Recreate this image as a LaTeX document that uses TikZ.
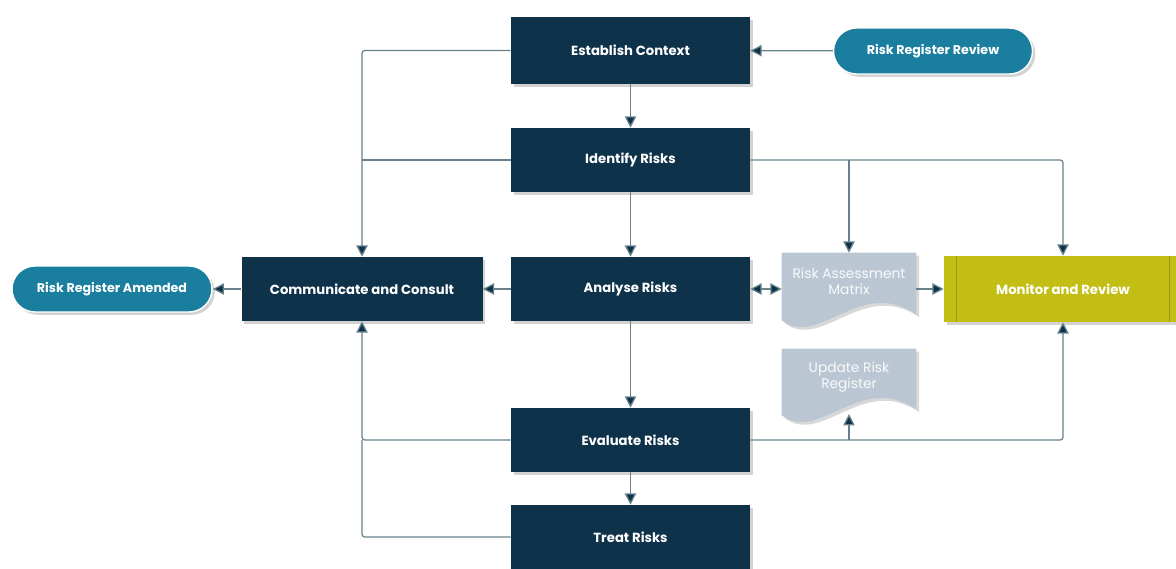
\documentclass[tikz,border=0pt]{standalone}
\usepackage{fontspec}
\setmainfont{Poppins}
\usepackage{tikz}
\definecolor{navy}{RGB}{14,50,74}
\definecolor{teal}{RGB}{26,126,158}
\definecolor{paper}{RGB}{186,199,211}
\definecolor{olive}{RGB}{194,190,20}
\definecolor{wire}{RGB}{104,130,140}
\usetikzlibrary{arrows.meta,shadows,backgrounds,calc}

\tikzset{
    procbox/.style={fill=navy, text=white, font=\bfseries\fontsize{9.4}{11}\selectfont,
        minimum width=5.975cm, minimum height=1.6cm, inner sep=0pt,
        drop shadow={shadow xshift=2pt, shadow yshift=-2pt, opacity=0.35}},
    pillbox/.style={fill=teal, text=white, font=\bfseries\fontsize{9}{10}\selectfont,
        minimum width=5cm, minimum height=1.15cm, inner sep=0pt,
        rounded corners=0.575cm, draw=white, line width=1pt,
        drop shadow={shadow xshift=2pt, shadow yshift=-2pt, opacity=0.35}},
    docbox/.style={text=white!92!paper, font=\fontsize{9.8}{11}\selectfont, align=center,
        minimum width=3.35cm, minimum height=1.425cm, inner sep=0pt},
    monbox/.style={fill=olive, text=white, font=\bfseries\fontsize{9.4}{11}\selectfont,
        minimum width=5.95cm, minimum height=1.65cm, inner sep=0pt,
        drop shadow={shadow xshift=2pt, shadow yshift=-2pt, opacity=0.35}},
    line/.style={draw=wire, line width=0.9pt, rounded corners=2pt},
    arr/.style={line, -{Triangle[length=8pt, width=8pt, fill=navy]}},
    arrtwo/.style={line, {Triangle[length=8pt, width=8pt, fill=navy]}-{Triangle[length=8pt, width=8pt, fill=navy]}}
}

% wavy document outline under a node
\newcommand{\docpath}[1]{%
    \fill[paper, drop shadow={shadow xshift=2pt, shadow yshift=-2pt, opacity=0.3}]
        (#1.north west) -- (#1.north east) -- ($(#1.south east)+(0,-0.1)$)
        .. controls ($(#1.south east)+(-1.4,0.85)$) and ($(#1.south west)+(0.95,-0.95)$) ..
        ($(#1.south west)+(0,-0.25)$) -- cycle;}

\begin{document}
\begin{tikzpicture}
    \useasboundingbox (0,0) rectangle (29.4,-14.225);

    % main column
    \node[procbox, minimum height=1.675cm] (establish) at (15.7625,-1.2625) {Establish Context};
    \node[procbox] (identify) at (15.7625,-4.0) {Identify Risks};
    \node[procbox] (analyse) at (15.7625,-7.225) {Analyse Risks};
    \node[procbox] (evaluate) at (15.7625,-11.0) {Evaluate Risks};
    \node[procbox] (treat) at (15.7625,-13.425) {Treat Risks};

    % left side
    \node[procbox, minimum width=6.025cm] (consult) at (9.05,-7.225) {Communicate and Consult};
    \node[pillbox] (amended) at (2.8,-7.225) {Risk Register Amended};

    % right side
    \node[pillbox, minimum width=4.975cm] (review) at (23.325,-1.275) {Risk Register Review};
    \node[docbox] (matrix) at (21.225,-7.0375) {Risk Assessment\\Matrix};
    \node[docbox, minimum height=1.4cm] (update) at (21.225,-9.425) {Update Risk\\Register};
    \node[monbox] (monitor) at (26.575,-7.225) {Monitor and Review};
    \draw[olive!80!black, line width=0.4pt] ($(monitor.north west)+(0.325,0)$) -- ($(monitor.south west)+(0.325,0)$);
    \draw[olive!80!black, line width=0.4pt] ($(monitor.north east)+(-0.325,0)$) -- ($(monitor.south east)+(-0.325,0)$);

    \begin{scope}[on background layer]
        \fill[white] (0,0) rectangle (29.4,-14.225);
        \docpath{matrix}
        \docpath{update}
    \end{scope}
    \coordinate (updwave) at ($(update.south)+(0,-0.22)$);

    % connectors
    \draw[arr] (review) -- (establish);
    \draw[arr] (establish) -- (identify);
    \draw[arr] (establish.west) -| (consult.north);
    \draw[line] (identify.west) -- (identify.west -| consult.north);
    \draw[arr] (identify) -- (analyse);
    \draw[arr] (identify.east) -| (monitor.north);
    \draw[arr] (identify.east -| matrix.north) -- (matrix.north);
    \draw[arr] (analyse) -- (consult);
    \draw[arr] (consult) -- (amended);
    \draw[arrtwo] (analyse.east) -- (analyse.east -| matrix.west);
    \draw[arr] (monitor.west -| matrix.east) -- (monitor.west);
    \draw[arr] (analyse) -- (evaluate);
    \draw[arr] (evaluate) -- (treat);
    \draw[arr] (evaluate.west) -| (consult.south);
    \draw[line] (treat.west) -| (evaluate.west -| consult.south);
    \draw[arr] (evaluate.east) -| (monitor.south);
    \draw[arr] (evaluate.east -| updwave) -- (updwave);
\end{tikzpicture}
\end{document}
